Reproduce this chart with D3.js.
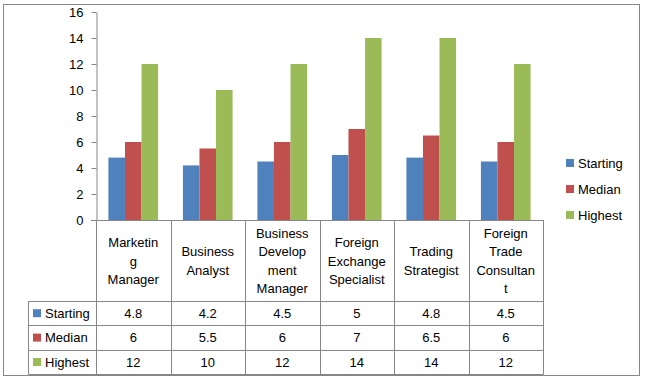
<!DOCTYPE html>
<html><head><meta charset="utf-8">
<script src="https://cdn.jsdelivr.net/npm/d3@7"></script>
<style>body{margin:0;background:#fff}svg{display:block;font-family:"Liberation Sans",Arial,sans-serif}</style>
</head><body>
<svg id="c" width="645" height="382"></svg>
<script>
const categories = ["Marketing Manager","Business Analyst","Business Development Manager","Foreign Exchange Specialist","Trading Strategist","Foreign Trade Consultant"];
const categoryLines = [["Marketin","g","Manager"],["Business","Analyst"],["Business","Develop","ment","Manager"],["Foreign","Exchange","Specialist"],["Trading","Strategist"],["Foreign","Trade","Consultan","t"]];
const seriesNames = ["Starting","Median","Highest"];
const starting = [4.8,4.2,4.5,5,4.8,4.5];
const median = [6,5.5,6,7,6.5,6];
const highest = [12,10,12,14,14,12];
const yTicks = [0,2,4,6,8,10,12,14,16];
const colors = ["#4F81BD","#C0504D","#9BBB59"];

const series = [starting, median, highest];
const svg = d3.select("#c");
const gridColor = "#868686";

svg.append("rect").attr("x",3.5).attr("y",4.5).attr("width",636).attr("height",371)
  .attr("fill","#fff").attr("stroke",gridColor);

const plotL = 96, plotR = 543, plotT = 12, plotB = 220;
const x0 = d3.scaleBand().domain(categories).range([plotL,plotR]);
const x1 = d3.scaleBand().domain(seriesNames).range([0,x0.bandwidth()]).paddingInner(0).paddingOuter(0.75);
const y = d3.scaleLinear().domain([0,16]).range([plotB,plotT]);

// bars
const g = svg.append("g");
series.forEach((vals,si)=>{
  g.selectAll(null).data(vals).enter().append("rect")
    .attr("x",(d,i)=>x0(categories[i])+x1(seriesNames[si]))
    .attr("y",d=>y(d))
    .attr("width",x1.bandwidth())
    .attr("height",d=>y(0)-y(d))
    .attr("fill",colors[si]);
});

// y axis
const ax = svg.append("g").attr("transform",`translate(${plotL+0.5},0)`)
  .call(d3.axisLeft(y).tickValues(yTicks).tickSize(5).tickSizeOuter(0).tickPadding(8));
ax.select(".domain").attr("stroke",gridColor);
ax.selectAll(".tick line").attr("stroke",gridColor);
ax.selectAll(".tick text").attr("font-size",13).attr("fill","#000").attr("font-family","Liberation Sans, Arial, sans-serif");

// data table
const headerBottom = 301, rowH = 24.4, tableLeft = 28.5;
const rowsBottom = headerBottom + rowH*3;
const tg = svg.append("g").attr("stroke",gridColor).attr("fill","none");
tg.append("line").attr("x1",plotL-5).attr("x2",plotR+0.5).attr("y1",plotB+0.5).attr("y2",plotB+0.5);
const bounds = categories.map(c=>x0(c)).concat([plotR]);
bounds.forEach(b=>{
  tg.append("line").attr("x1",Math.round(b)+0.5).attr("x2",Math.round(b)+0.5).attr("y1",plotB).attr("y2",rowsBottom);
});
for(let r=0;r<=3;r++){
  const yy = Math.round(headerBottom + rowH*r)+0.5;
  tg.append("line").attr("x1",tableLeft).attr("x2",plotR+0.5).attr("y1",yy).attr("y2",yy);
}
tg.append("line").attr("x1",tableLeft).attr("x2",tableLeft).attr("y1",headerBottom).attr("y2",rowsBottom);

// header labels
const headerMid = (plotB+headerBottom)/2 + 0.5;
const lh = 18.3;
categoryLines.forEach((lines,i)=>{
  const cx = x0(categories[i]) + x0.bandwidth()/2;
  const t = svg.append("text").attr("text-anchor","middle").attr("font-size",13).attr("fill","#000");
  lines.forEach((ln,k)=>{
    t.append("tspan").attr("x",cx).attr("y",headerMid + (k-(lines.length-1)/2)*lh + 4.5).text(ln);
  });
});

// rows
series.forEach((vals,si)=>{
  const cy = headerBottom + rowH*si + rowH/2;
  svg.append("rect").attr("x",33).attr("y",cy-4).attr("width",8).attr("height",8).attr("fill",colors[si]);
  svg.append("text").attr("x",45).attr("y",cy+4.5).attr("font-size",13).attr("fill","#000").text(seriesNames[si]);
  vals.forEach((v,i)=>{
    svg.append("text").attr("x",x0(categories[i])+x0.bandwidth()/2).attr("y",cy+4.5)
      .attr("text-anchor","middle").attr("font-size",13).attr("fill","#000").text(v);
  });
});

// legend
seriesNames.forEach((s,si)=>{
  const cy = 163 + si*26;
  svg.append("rect").attr("x",566).attr("y",cy-4).attr("width",8).attr("height",8).attr("fill",colors[si]);
  svg.append("text").attr("x",578).attr("y",cy+4.5).attr("font-size",13).attr("fill","#000").text(s);
});
</script>
</body></html>
